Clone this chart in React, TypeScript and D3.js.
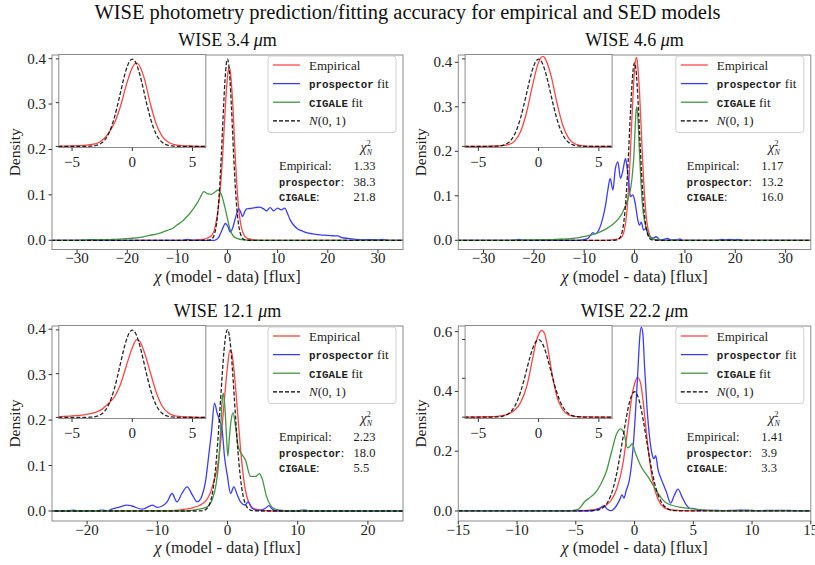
import React from 'react';
import * as d3 from 'd3';

type Pt = [number, number];

// ---------- DATA ----------
const NORMAL_PDF: Pt[] = [
  [-40, 0], [-6, 0], [-4.5, 0.00002], [-4, 0.0001], [-3.75, 0.0004], [-3.5, 0.0009], [-3.25, 0.002], [-3, 0.0044],
  [-2.75, 0.0091], [-2.5, 0.0175], [-2.25, 0.0317], [-2, 0.054], [-1.75, 0.0863], [-1.5, 0.1295],
  [-1.25, 0.1826], [-1, 0.242], [-0.75, 0.3011], [-0.5, 0.3521], [-0.25, 0.3867], [0, 0.3989],
  [0.25, 0.3867], [0.5, 0.3521], [0.75, 0.3011], [1, 0.242], [1.25, 0.1826], [1.5, 0.1295],
  [1.75, 0.0863], [2, 0.054], [2.25, 0.0317], [2.5, 0.0175], [2.75, 0.0091], [3, 0.0044],
  [3.25, 0.002], [3.5, 0.0009], [3.75, 0.0004], [4, 0.0001], [4.5, 0.00002], [6, 0], [40, 0],
];

const W1_EMPIRICAL: Pt[] = [
  [-35, 0], [-8, 0], [-6, 0.001], [-5, 0.002], [-4, 0.005], [-3, 0.013], [-2.5, 0.028], [-2, 0.058],
  [-1.75, 0.08], [-1.5, 0.105], [-1, 0.18], [-0.5, 0.28], [0, 0.36], [0.3, 0.381], [0.5, 0.376],
  [1, 0.31], [1.5, 0.195], [2, 0.1], [2.5, 0.045], [3, 0.019], [3.5, 0.008], [4, 0.004], [5, 0.0015],
  [6, 0.0005], [8, 0], [35, 0],
];
const W1_PROSPECTOR: Pt[] = [
  [-35, 0], [-28, 0], [-27, 0.002], [-26, 0], [-9, 0], [-8, 0.002], [-7, 0], [-2.6, 0], [-1.8, 0.006],
  [-1.2, 0.02], [-0.4, 0.037], [0.1, 0.03], [0.5, 0.018], [1, 0.026], [1.6, 0.05], [2.3, 0.069],
  [2.7, 0.06], [3, 0.052], [3.4, 0.062], [3.8, 0.069], [4.5, 0.07], [5.5, 0.072], [6.4, 0.073],
  [7.2, 0.069], [7.8, 0.065], [8.5, 0.072], [9.2, 0.065], [10, 0.071], [10.7, 0.067], [11.4, 0.071],
  [12, 0.058], [12.5, 0.045], [13.3, 0.032], [14, 0.025], [15, 0.02], [15.7, 0.017], [17, 0.014],
  [18.5, 0.012], [19.7, 0.011], [21, 0.01], [22, 0.0095], [22.8, 0.006], [24, 0.004], [25.5, 0.002],
  [27, 0.001], [28.5, 0.0015], [30, 0.001], [31, 0.002], [32, 0], [35, 0],
];
const W1_CIGALE: Pt[] = [
  [-35, 0], [-30, 0], [-27, 0.001], [-23, 0.002], [-19.5, 0.004], [-17, 0.007], [-15.5, 0.011],
  [-14, 0.014], [-12, 0.022], [-11, 0.026], [-10, 0.034], [-8.9, 0.043], [-8, 0.053], [-6.9, 0.068],
  [-6, 0.083], [-5.5, 0.093], [-4.7, 0.107], [-4.2, 0.104], [-3.9, 0.102], [-3.3, 0.101], [-2.9, 0.103],
  [-2.3, 0.108], [-1.9, 0.111], [-1.5, 0.106], [-1.2, 0.1], [-0.55, 0.074], [-0.1, 0.052], [0.45, 0.026],
  [1.1, 0.01], [1.9, 0.004], [3.1, 0.001], [5, 0], [35, 0],
];

const W2_EMPIRICAL: Pt[] = [
  [-35, 0], [-8, 0], [-5, 0.0005], [-4, 0.0015], [-3, 0.004], [-2.5, 0.008], [-2, 0.024], [-1.5, 0.067],
  [-1, 0.155], [-0.5, 0.28], [0, 0.385], [0.35, 0.411], [0.5, 0.405], [1, 0.33], [1.5, 0.205],
  [2, 0.098], [2.5, 0.037], [3, 0.012], [3.5, 0.004], [4, 0.0015], [5, 0.0005], [8, 0], [35, 0],
];
const W2_PROSPECTOR: Pt[] = [
  [-35, 0], [-24, 0], [-23, 0.002], [-22, 0], [-11, 0], [-10.3, 0.001], [-9.3, 0.004], [-8.7, 0.012],
  [-8.3, 0.017], [-7.8, 0.0145], [-7.3, 0.019], [-6.6, 0.038], [-6.2, 0.055], [-5.8, 0.076], [-5.3, 0.113],
  [-4.84, 0.139], [-4.3, 0.113], [-3.8, 0.162], [-3.3, 0.176], [-2.8, 0.139], [-2.3, 0.158], [-1.8, 0.184],
  [-1.5, 0.165], [-1.2, 0.135], [-0.8, 0.098], [-0.33, 0.102], [0.13, 0.083], [0.66, 0.045], [1.0, 0.034],
  [1.33, 0.041], [1.8, 0.023], [2.3, 0.027], [2.7, 0.012], [3.1, 0.007], [3.7, 0.005], [4.3, 0.008],
  [4.8, 0.003], [5.3, 0.001], [6.6, 0.004], [7.2, 0.001], [8.5, 0.001], [9, 0.003], [9.5, 0], [16.5, 0],
  [17.2, 0.002], [18, 0.001], [19, 0.002], [20, 0.001], [20.5, 0.002], [21.5, 0], [35, 0],
];
const W2_CIGALE: Pt[] = [
  [-35, 0], [-25, 0], [-20, 0.001], [-15.6, 0.002], [-12.3, 0.004], [-9.6, 0.0095], [-8.6, 0.012],
  [-7.6, 0.0155], [-5.7, 0.025], [-4.3, 0.036], [-3.3, 0.047], [-2.5, 0.06], [-2, 0.072], [-1.66, 0.08],
  [-1, 0.106], [-0.8, 0.115], [-0.35, 0.158], [-0.13, 0.19], [0.1, 0.248], [0.3, 0.29], [0.45, 0.3],
  [0.76, 0.255], [1.0, 0.19], [1.3, 0.125], [1.6, 0.075], [2.0, 0.042], [2.5, 0.02], [3, 0.009],
  [3.6, 0.004], [4, 0.002], [5, 0.001], [6, 0], [35, 0],
];

const W3_EMPIRICAL: Pt[] = [
  [-25, 0], [-8, 0.001], [-7, 0.002], [-6, 0.004], [-5, 0.007], [-4, 0.012], [-3, 0.024], [-2.5, 0.038],
  [-2, 0.062], [-1.5, 0.092], [-1, 0.148], [-0.5, 0.235], [0, 0.318], [0.35, 0.354], [0.6, 0.348],
  [1, 0.298], [1.5, 0.205], [2, 0.113], [2.5, 0.05], [3, 0.02], [3.5, 0.008], [4, 0.004], [5, 0.0015],
  [6, 0.0005], [8, 0], [25, 0],
];
const W3_PROSPECTOR: Pt[] = [
  [-25, 0], [-23, 0], [-22, 0.002], [-21, 0], [-19, 0], [-18, 0.002], [-17, 0.001], [-16.5, 0.004],
  [-15.5, 0.008], [-14.3, 0.013], [-13.6, 0.011], [-12.2, 0.004], [-11.2, 0.01], [-10.7, 0.013],
  [-10, 0.008], [-9.3, 0.011], [-8.6, 0.02], [-7.9, 0.0385], [-7.2, 0.02], [-6.5, 0.0385], [-5.75, 0.053],
  [-5, 0.035], [-4.3, 0.02], [-3.6, 0.035], [-3.1, 0.068], [-2.75, 0.112], [-2.3, 0.171], [-1.85, 0.237],
  [-1.47, 0.215], [-1.14, 0.2], [-0.76, 0.178], [-0.43, 0.12], [0, 0.076], [0.43, 0.0385], [0.9, 0.053],
  [1.4, 0.035], [1.85, 0.02], [2.5, 0.0132], [2.95, 0.02], [3.5, 0.006], [4.2, 0.002], [4.7, 0.002],
  [5.4, 0.006], [5.9, 0.0117], [6.4, 0.004], [7, 0.001], [10, 0], [10.5, 0.002], [11.2, 0.002],
  [11.7, 0], [25, 0],
];
const W3_CIGALE: Pt[] = [
  [-25, 0], [-6, 0], [-4.1, 0.004], [-2.9, 0.009], [-2.2, 0.024], [-1.6, 0.061], [-1.23, 0.112],
  [-1.0, 0.171], [-0.76, 0.244], [-0.6, 0.259], [-0.38, 0.23], [-0.14, 0.164], [0.05, 0.12],
  [0.28, 0.164], [0.52, 0.2], [0.8, 0.216], [1.14, 0.186], [1.52, 0.142], [1.95, 0.127], [2.56, 0.112],
  [3.28, 0.076], [4.0, 0.076], [4.56, 0.082], [5.0, 0.068], [5.5, 0.035], [6.1, 0.0132], [6.8, 0.004],
  [8.3, 0.0007], [10, 0], [25, 0],
];

const W4_EMPIRICAL: Pt[] = [
  [-15, 0], [-6, 0], [-4, 0.002], [-3.5, 0.004], [-3, 0.008], [-2.5, 0.017], [-2, 0.035], [-1.5, 0.075],
  [-1, 0.155], [-0.5, 0.3], [-0.2, 0.39], [0, 0.425], [0.25, 0.447], [0.5, 0.43], [0.75, 0.36],
  [1, 0.265], [1.25, 0.18], [1.5, 0.11], [2, 0.038], [2.5, 0.012], [3, 0.004], [4, 0.001], [6, 0], [15, 0],
];
const W4_PROSPECTOR: Pt[] = [
  [-15, 0], [-4, 0], [-3.4, 0.003], [-3, 0.009], [-2.6, 0.017], [-2.32, 0.006], [-1.98, 0.001],
  [-1.7, 0.009], [-1.27, 0.037], [-1.07, 0.054], [-0.9, 0.043], [-0.7, 0.07], [-0.5, 0.093],
  [-0.33, 0.132], [-0.14, 0.205], [0.06, 0.317], [0.29, 0.474], [0.43, 0.575], [0.57, 0.615],
  [0.71, 0.592], [0.85, 0.485], [1.05, 0.351], [1.27, 0.25], [1.47, 0.194], [1.65, 0.175], [1.8, 0.185],
  [2.0, 0.138], [2.3, 0.104], [2.7, 0.065], [3.07, 0.026], [3.4, 0.054], [3.7, 0.073], [4.03, 0.048],
  [4.4, 0.02], [4.7, 0.009], [5.1, 0.008], [5.4, 0.002], [6.5, 0.002], [7.5, 0.001], [8.5, 0.002],
  [9.5, 0.003], [10.5, 0.001], [12, 0.002], [13, 0.002], [14, 0.001], [15, 0],
];
const W4_CIGALE: Pt[] = [
  [-15, 0], [-6, 0], [-5.4, 0.001], [-4.8, 0.0056], [-4.25, 0.031], [-3.7, 0.048], [-3.26, 0.065],
  [-2.83, 0.093], [-2.4, 0.132], [-1.98, 0.194], [-1.55, 0.256], [-1.2, 0.275], [-0.9, 0.261],
  [-0.6, 0.211], [-0.4, 0.216], [-0.18, 0.225], [0.02, 0.2], [0.3, 0.171], [0.63, 0.143], [0.92, 0.127],
  [1.14, 0.115], [1.57, 0.087], [2.0, 0.059], [2.57, 0.031], [3.1, 0.02], [4.0, 0.012], [4.8, 0.008],
  [6, 0.003], [8, 0.001], [10, 0], [15, 0],
];

const BANDS = ['3.4', '4.6', '12.1', '22.2'];
const EMPIRICAL = [W1_EMPIRICAL, W2_EMPIRICAL, W3_EMPIRICAL, W4_EMPIRICAL];
const PROSPECTOR = [W1_PROSPECTOR, W2_PROSPECTOR, W3_PROSPECTOR, W4_PROSPECTOR];
const CIGALE = [W1_CIGALE, W2_CIGALE, W3_CIGALE, W4_CIGALE];
const CHI_EMPIRICAL = ['1.33', '1.17', '2.23', '1.41'];
const CHI_PROSPECTOR = ['38.3', '13.2', '18.0', '3.9'];
const CHI_CIGALE = ['21.8', '16.0', '5.5', '3.3'];
const X_LIMITS = [35, 35, 25, 15];
const X_TICKS = [
  [-30, -20, -10, 0, 10, 20, 30],
  [-30, -20, -10, 0, 10, 20, 30],
  [-20, -10, 0, 10, 20],
  [-15, -10, -5, 0, 5, 10, 15],
];
const Y_DOMAINS: [number, number][] = [
  [-0.0203, 0.408], [-0.0207, 0.4164], [-0.022, 0.407], [-0.0336, 0.619],
];
const Y_TICKS = [
  [0, 0.1, 0.2, 0.3, 0.4], [0, 0.1, 0.2, 0.3, 0.4], [0, 0.1, 0.2, 0.3, 0.4], [0, 0.2, 0.4, 0.6],
];
const INSET_X_LIMIT = 6.1;
const INSET_X_TICKS = [-5, 0, 5];
const INSET_Y_DOMAINS: [number, number][] = [
  [-0.005, 0.42], [-0.005, 0.42], [-0.005, 0.42], [-0.007, 0.472],
];
const INSET_Y_TICKS = [0, 0.2, 0.4];

// ---------- STYLE / LAYOUT ----------
const SERIF = '"Liberation Serif", "Times New Roman", serif';
const MONO = '"Liberation Mono", "DejaVu Sans Mono", monospace';
const RED = 'rgb(255,70,70)';
const BLUE = 'rgb(60,60,255)';
const GREEN = 'rgb(70,150,70)';
const SPINE = '#8a8a8a';
const TEXT = '#222';

const BOXES = [
  { left: 52, right: 403, top: 55, bottom: 249.5 },
  { left: 458.3, right: 810.8, top: 55, bottom: 249.5 },
  { left: 52, right: 403, top: 326, bottom: 521 },
  { left: 458.3, right: 810.8, top: 326, bottom: 521 },
];

function Panel({ i }: { i: number }) {
  const b = BOXES[i];
  const lim = X_LIMITS[i];
  const x = d3.scaleLinear().domain([-lim, lim]).range([b.left, b.right]);
  const y = d3.scaleLinear().domain(Y_DOMAINS[i]).range([b.bottom, b.top]);
  const line = d3.line<Pt>().x((d) => x(d[0])).y((d) => y(d[1])).curve(d3.curveMonotoneX);

  const insL = b.left + 6.8;
  const insR = insL + 147;
  const insT = b.top - 0.5;
  const insB = insT + 93;
  const ix = d3.scaleLinear().domain([-INSET_X_LIMIT, INSET_X_LIMIT]).range([insL, insR]);
  const iy = d3.scaleLinear().domain(INSET_Y_DOMAINS[i]).range([insB, insT]);
  const iline = d3.line<Pt>().x((d) => ix(d[0])).y((d) => iy(d[1])).curve(d3.curveMonotoneX);

  const yfmt = d3.format('.1f');
  const xfmt = d3.format('d');
  const cx = (b.left + b.right) / 2;
  const cy = (b.top + b.bottom) / 2;

  const lgL = b.right - 135;
  const lgT = b.top + 1;
  const entries = [
    { color: RED, dash: undefined as string | undefined, label: <tspan>Empirical</tspan> },
    { color: BLUE, dash: undefined, label: <><tspan fontFamily={MONO} fontWeight="bold" fontSize={10.8}>prospector</tspan><tspan> fit</tspan></> },
    { color: GREEN, dash: undefined, label: <><tspan fontFamily={MONO} fontWeight="bold" fontSize={10.8}>CIGALE</tspan><tspan> fit</tspan></> },
    { color: '#000', dash: '4,2', label: <><tspan fontStyle="italic">N</tspan><tspan>(0, 1)</tspan></> },
  ];

  const clipId = `clip${i}`;
  const iclipId = `iclip${i}`;
  const series = [
    { d: EMPIRICAL[i], c: RED, dash: undefined as string | undefined },
    { d: PROSPECTOR[i], c: BLUE, dash: undefined },
    { d: CIGALE[i], c: GREEN, dash: undefined },
    { d: NORMAL_PDF, c: '#000', dash: '4,2' },
  ];

  const chiRows = [
    { label: <tspan>Empirical:</tspan>, v: CHI_EMPIRICAL[i] },
    { label: <tspan fontFamily={MONO} fontWeight="bold" fontSize={10.3}>prospector<tspan fontFamily={SERIF} fontWeight="normal" fontSize={12.5}>:</tspan></tspan>, v: CHI_PROSPECTOR[i] },
    { label: <tspan fontFamily={MONO} fontWeight="bold" fontSize={10.3}>CIGALE<tspan fontFamily={SERIF} fontWeight="normal" fontSize={12.5}>:</tspan></tspan>, v: CHI_CIGALE[i] },
  ];

  return (
    <g>
      <defs>
        <clipPath id={clipId}>
          <rect x={b.left} y={b.top} width={b.right - b.left} height={b.bottom - b.top} />
        </clipPath>
        <clipPath id={iclipId}>
          <rect x={insL} y={insT} width={insR - insL} height={insB - insT} />
        </clipPath>
      </defs>
      {/* title */}
      <text x={cx} y={b.top - 9} textAnchor="middle" fontFamily={SERIF} fontSize={18} fill="#111">
        WISE {BANDS[i]} <tspan fontStyle="italic">μ</tspan>m
      </text>
      {/* main lines */}
      <g clipPath={`url(#${clipId})`}>
        {series.map((s, k) => (
          <path key={k} d={line(s.d) || ''} fill="none" stroke={s.c} strokeWidth={1.3}
            strokeDasharray={s.dash} strokeOpacity={s.dash ? 0.85 : 1} />
        ))}
      </g>
      {/* spines */}
      <rect x={b.left} y={b.top} width={b.right - b.left} height={b.bottom - b.top} fill="none" stroke={SPINE} strokeWidth={1} />
      {/* x ticks */}
      {X_TICKS[i].map((t) => (
        <g key={`x${t}`}>
          <line x1={x(t)} x2={x(t)} y1={b.bottom} y2={b.bottom + 3.5} stroke="#333" />
          <text x={x(t)} y={b.bottom + 13.5} textAnchor="middle" fontFamily={SERIF} fontSize={15} fill={TEXT}>{xfmt(t)}</text>
        </g>
      ))}
      {Y_TICKS[i].map((t) => (
        <g key={`y${t}`}>
          <line x1={b.left - 3.5} x2={b.left} y1={y(t)} y2={y(t)} stroke="#333" />
          <text x={b.left - 6} y={y(t) + 5} textAnchor="end" fontFamily={SERIF} fontSize={15} fill={TEXT}>{yfmt(t)}</text>
        </g>
      ))}
      <text x={cx} y={b.bottom + 32} textAnchor="middle" fontFamily={SERIF} fontSize={16.5} fill={TEXT}>
        <tspan fontStyle="italic">χ</tspan> (model - data) [flux]
      </text>
      <text transform={`translate(${b.left - 32},${cy}) rotate(-90)`} textAnchor="middle" fontFamily={SERIF} fontSize={15.5} fill={TEXT}>Density</text>

      {/* legend */}
      <rect x={lgL} y={lgT} width={128} height={76.5} rx={3} fill="#fff" fillOpacity={0.85} stroke="#d0d0d0" />
      {entries.map((e, k) => {
        const ey = lgT + 9 + k * 18.6;
        return (
          <g key={k}>
            <line x1={lgL + 5} x2={lgL + 32} y1={ey} y2={ey} stroke={e.color} strokeWidth={1.3} strokeDasharray={e.dash} />
            <text x={lgL + 41} y={ey + 4.5} fontFamily={SERIF} fontSize={13} fill={TEXT}>{e.label}</text>
          </g>
        );
      })}

      {/* chi-square text */}
      <text x={b.right - 42.5} y={b.top + 97} fontFamily={SERIF} fontSize={14} fill={TEXT}>
        <tspan fontStyle="italic">χ</tspan>
        <tspan fontSize={8} dy={-6}>2</tspan>
        <tspan fontSize={8} fontStyle="italic" dx={-4} dy={9}>N</tspan>
      </text>
      {chiRows.map((r, k) => (
        <g key={k}>
          <text x={b.right - 124} y={b.top + 115 + k * 15.6} fontFamily={SERIF} fontSize={12.5} fill={TEXT}>{r.label}</text>
          <text x={b.right - 49.5} y={b.top + 115 + k * 15.6} fontFamily={SERIF} fontSize={12.5} fill={TEXT}>{r.v}</text>
        </g>
      ))}

      {/* inset */}
      <rect x={insL} y={insT} width={insR - insL} height={insB - insT} fill="#fff" />
      <g clipPath={`url(#${iclipId})`}>
        <path d={iline(EMPIRICAL[i]) || ''} fill="none" stroke={RED} strokeWidth={1.3} />
        <path d={iline(NORMAL_PDF) || ''} fill="none" stroke="#000" strokeOpacity={0.85} strokeWidth={1.3} strokeDasharray="4,2" />
      </g>
      <rect x={insL} y={insT} width={insR - insL} height={insB - insT} fill="none" stroke={SPINE} />
      {INSET_X_TICKS.map((t) => (
        <g key={`ix${t}`}>
          <line x1={ix(t)} x2={ix(t)} y1={insB} y2={insB + 3.5} stroke="#333" />
          <text x={ix(t)} y={insB + 19} textAnchor="middle" fontFamily={SERIF} fontSize={15} fill={TEXT}>{xfmt(t)}</text>
        </g>
      ))}
      {INSET_Y_TICKS.map((t) => (
        <line key={`iy${t}`} x1={insL - 3} x2={insL} y1={iy(t)} y2={iy(t)} stroke="#333" />
      ))}
    </g>
  );
}

export default function App() {
  return (
    <svg width={815} height={565} viewBox="0 0 815 565" style={{ display: 'block', position: 'absolute', left: 0, top: 0, background: '#fff' }}>
      <rect width={815} height={565} fill="#fff" />
      <text x={407.5} y={18.5} textAnchor="middle" fontFamily={SERIF} fontSize={20.5} fill="#111">
        WISE photometry prediction/fitting accuracy for empirical and SED models
      </text>
      {[0, 1, 2, 3].map((i) => <Panel key={i} i={i} />)}
    </svg>
  );
}
